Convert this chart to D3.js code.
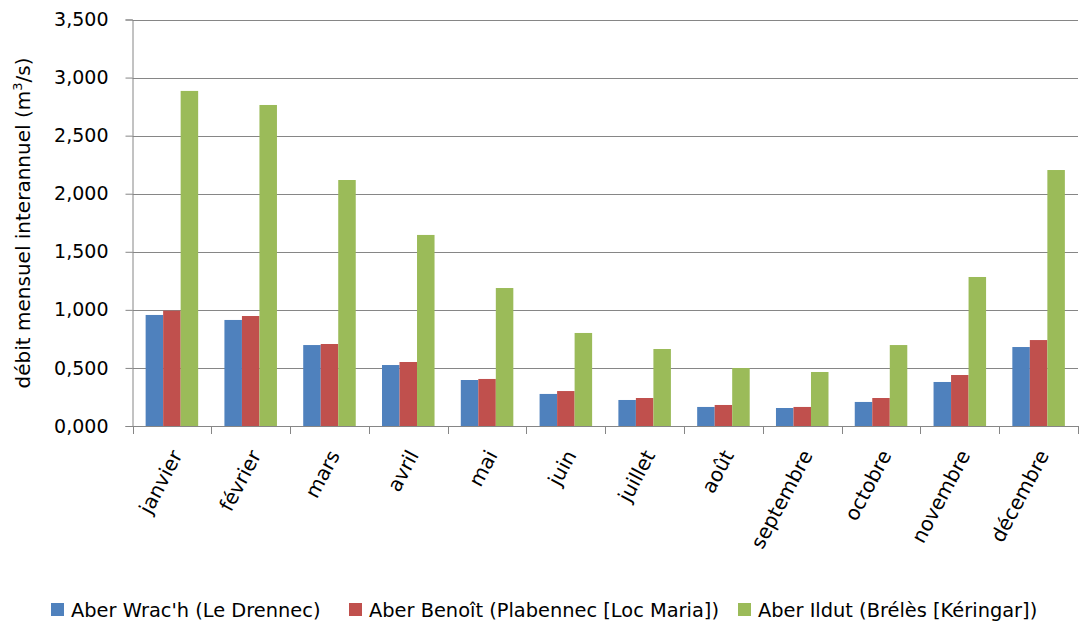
<!DOCTYPE html>
<html>
<head>
<meta charset="utf-8">
<script src="https://cdn.jsdelivr.net/npm/d3@7"></script>
<style>
  html, body { margin: 0; padding: 0; background: #fff; }
  svg { display: block; font-family: "DejaVu Sans", sans-serif; }
</style>
</head>
<body>
<svg id="chart" width="1081" height="623"></svg>
<script>
// Monthly inter-annual mean flow (m³/s) for three Léon rivers
const months = ["janvier", "février", "mars", "avril", "mai", "juin",
                "juillet", "août", "septembre", "octobre", "novembre", "décembre"];
const seriesNames = ["Aber Wrac'h (Le Drennec)",
                     "Aber Benoît (Plabennec [Loc Maria])",
                     "Aber Ildut (Brélès [Kéringar])"];
const aberWrach  = [0.956, 0.913, 0.697, 0.525, 0.396, 0.276, 0.224, 0.164, 0.155, 0.207, 0.379, 0.680];
const aberBenoit = [0.993, 0.947, 0.706, 0.551, 0.405, 0.301, 0.241, 0.181, 0.164, 0.241, 0.439, 0.740];
const aberIldut  = [2.885, 2.764, 2.118, 1.645, 1.188, 0.801, 0.663, 0.499, 0.465, 0.697, 1.283, 2.204];
const yTicks = [0, 0.5, 1, 1.5, 2, 2.5, 3, 3.5];
const colors = ["#4F81BD", "#C0504D", "#9BBB59"];

const series = [aberWrach, aberBenoit, aberIldut];
const svg = d3.select("#chart");

const plot = { left: 132.5, right: 1078, top: 19.5, bottom: 426 };

const x = d3.scaleBand().domain(months).range([plot.left, plot.right]).paddingInner(0).paddingOuter(0);
// 150% gap between groups
const xs = d3.scaleBand().domain(d3.range(series.length))
  .range([0, x.bandwidth()]).paddingInner(0).paddingOuter(0.75);
const y = d3.scaleLinear().domain([0, 3.5]).range([plot.bottom, plot.top]);

const fmt = v => d3.format(".3f")(v).replace(".", ",");

// horizontal gridlines
svg.append("g").selectAll("line").data(yTicks.slice(1)).join("line")
  .attr("x1", plot.left).attr("x2", plot.right)
  .attr("y1", d => Math.round(y(d)) + 0.5).attr("y2", d => Math.round(y(d)) + 0.5)
  .attr("stroke", "#868686").attr("stroke-width", 1);

// bars
const groups = svg.append("g").selectAll("g").data(series).join("g")
  .attr("fill", (d, i) => colors[i]);
groups.each(function(vals, si) {
  d3.select(this).selectAll("rect").data(vals).join("rect")
    .attr("x", (v, mi) => x(months[mi]) + xs(si))
    .attr("width", xs.bandwidth())
    .attr("y", v => y(v))
    .attr("height", v => y(0) - y(v));
});

// y axis
const yAxis = d3.axisLeft(y).tickValues(yTicks).tickFormat(fmt).tickSize(7).tickPadding(17);
const gy = svg.append("g").attr("transform", `translate(${plot.left},0)`).call(yAxis);
gy.select(".domain").attr("stroke", "#868686");
gy.selectAll(".tick line").attr("stroke", "#868686");
gy.selectAll(".tick text").attr("font-size", 19).attr("fill", "#000")
  .attr("font-family", "'DejaVu Sans', sans-serif");

// x axis: ticks on category boundaries
const gx = svg.append("g").attr("transform", `translate(0,${plot.bottom})`);
gx.append("line").attr("x1", plot.left).attr("x2", plot.right)
  .attr("y1", 0.5).attr("y2", 0.5).attr("stroke", "#868686");
const bounds = months.map(m => x(m)).concat([plot.right]);
gx.selectAll("line.tk").data(bounds).join("line").attr("class", "tk")
  .attr("x1", d => Math.round(d) + 0.5).attr("x2", d => Math.round(d) + 0.5)
  .attr("y1", 0).attr("y2", 8).attr("stroke", "#868686");
gx.selectAll("text").data(months).join("text")
  .attr("transform", d => `translate(${x(d) + x.bandwidth() / 2 + 11},${29}) rotate(-62)`)
  .attr("text-anchor", "end")
  .attr("font-size", 20)
  .attr("font-family", "'DejaVu Sans', sans-serif")
  .attr("fill", "#000")
  .text(d => d);

// y axis title
svg.append("text")
  .attr("transform", `translate(30,223) rotate(-90)`)
  .attr("text-anchor", "middle")
  .attr("font-size", 20)
  .attr("fill", "#000")
  .call(t => {
    t.append("tspan").text("débit mensuel interannuel (m");
    t.append("tspan").attr("font-size", 13).attr("dy", -8).text("3");
    t.append("tspan").attr("dy", 8).text("/s)");
  });

// legend
const legendX = [51, 349, 738];
const lg = svg.append("g").selectAll("g").data(seriesNames).join("g")
  .attr("transform", (d, i) => `translate(${legendX[i]},610)`);
lg.append("rect").attr("x", 0).attr("y", -7).attr("width", 13).attr("height", 13)
  .attr("fill", (d, i) => colors[i]);
lg.append("text").attr("x", 20).attr("y", 0).attr("dy", "0.35em")
  .attr("font-size", 19.4).attr("fill", "#000").text(d => d);
</script>
</body>
</html>
